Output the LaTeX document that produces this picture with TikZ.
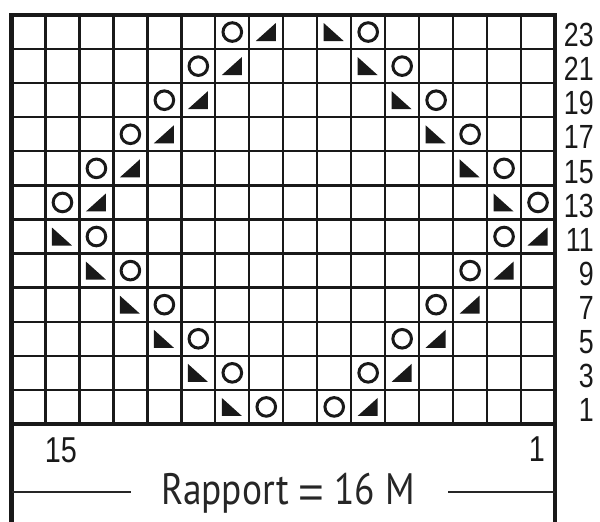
\documentclass[tikz,border=0pt]{standalone}
\usepackage{fontspec}
\newfontfamily\labfont[FakeStretch=0.8]{Liberation Sans}
\newfontfamily\rapfont[FakeStretch=0.85]{PT Sans}
\newfontfamily\eqfont{Liberation Sans}
\tikzset{
  gridline/.style={line width=2.3pt, draw=black!90},
  frameline/.style={line width=4.2pt, draw=black!90},
  symline/.style={line width=3pt, draw=black!90},
  symfill/.style={fill=black!90},
  rowlab/.style={anchor=base east, inner sep=0pt, font=\labfont\fontsize{33.5}{40}\selectfont, text=black!90},
  collab/.style={anchor=base, inner sep=0pt, font=\labfont\fontsize{36}{42}\selectfont, text=black!90},
  raplab/.style={anchor=base, inner sep=0pt, font=\rapfont\fontsize{44}{50}\selectfont, text=black!85},
}
\newcommand\cx[1]{11.5+33.97*(#1+0.5)}
\newcommand\cy[1]{15+34.08*(#1+0.5)}
\newcommand\symO[2]{\draw[symline] ({\cx{#1}},{\cy{#2}}) circle[radius=9.3pt];}
\newcommand\symR[2]{\fill[symfill] ({\cx{#1}-10.5},{\cy{#2}+9}) -- ({\cx{#1}+9.5},{\cy{#2}+9}) -- ({\cx{#1}+9.5},{\cy{#2}-9}) -- cycle;}
\newcommand\symL[2]{\fill[symfill] ({\cx{#1}-10.5},{\cy{#2}-9}) -- ({\cx{#1}-10.5},{\cy{#2}+9}) -- ({\cx{#1}+9.5},{\cy{#2}+9}) -- cycle;}
\begin{document}
\begin{tikzpicture}[x=1pt,y=-1pt]
\useasboundingbox[fill=white] (0,0) rectangle (600,522);
% inner grid
\foreach \i in {1,...,15} \draw[gridline] ({11.5+33.97*\i},15) -- ({11.5+33.97*\i},424);
\foreach \j in {1,...,11} \draw[gridline] (11.5,{15+34.08*\j}) -- (555,{15+34.08*\j});
% symbols
\foreach \r in {0,...,5} {
  \pgfmathtruncatemacro\a{6-\r}\pgfmathtruncatemacro\b{7-\r}
  \pgfmathtruncatemacro\c{9+\r}\pgfmathtruncatemacro\d{10+\r}
  \symO{\a}{\r}\symR{\b}{\r}\symL{\c}{\r}\symO{\d}{\r}
}
\foreach \k in {0,...,5} {
  \pgfmathtruncatemacro\r{6+\k}
  \pgfmathtruncatemacro\a{1+\k}\pgfmathtruncatemacro\b{2+\k}
  \pgfmathtruncatemacro\c{14-\k}\pgfmathtruncatemacro\d{15-\k}
  \symL{\a}{\r}\symO{\b}{\r}\symO{\c}{\r}\symR{\d}{\r}
}
% frame
\draw[frameline] (11.5,522) -- (11.5,15) -- (555,15) -- (555,522);
\draw[frameline] (11.5,424) -- (555,424);
% row labels
\foreach \n [count=\r from 0] in {23,21,19,17,15,13,11,9,7,5,3,1}
  \node[rowlab] (row\n) at (594,{\cy{\r}+14.7}) {\n};
% column labels
\node[collab] (c15) at (61,462) {15};
\node[collab] (c1) at (537,461) {1};
% rapport
\node[raplab] (rap) at (288,504) {Rapport \raisebox{-3pt}{\eqfont=} 16 M};
\coordinate (rl) at (11.5,492);
\coordinate (rr) at (555,492);
\draw[line width=2.4pt, draw=black!85] (rl) -- (131,492);
\draw[line width=2.4pt, draw=black!85] (448,492) -- (rr);
\end{tikzpicture}
\end{document}
